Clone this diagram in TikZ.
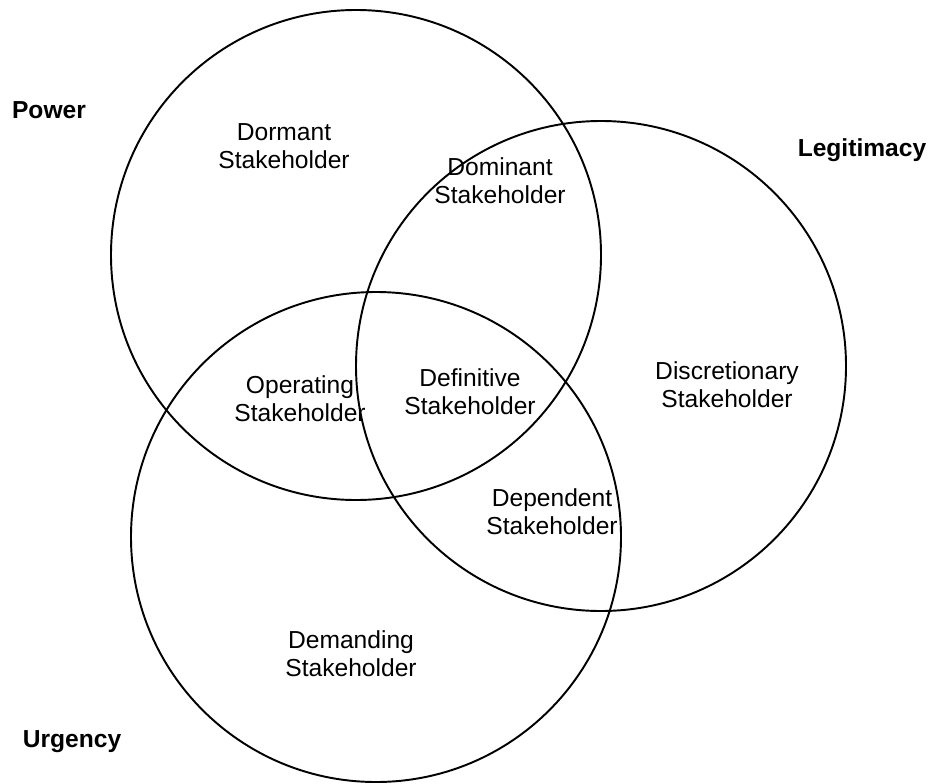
\documentclass[tikz,border=0pt]{standalone}
\usepackage{fontspec}
\setmainfont{Liberation Sans}
\usepackage{tikz}

\begin{document}
\begin{tikzpicture}[
		set/.style={line width=1.1pt, color=black},
		region/.style={align=center, font=\fontsize{14}{16}\selectfont},
		setname/.style={font=\fontsize{14}{16}\selectfont\bfseries}]
			%%%%% START %%%%%
			
			\useasboundingbox (0, 0) rectangle (18.66, 15.66);
			
			\draw[set] (7.12, 10.56) circle (4.9);
			\draw[set] (12.02, 8.34) circle (4.9);
			\draw[set] (7.52, 4.92) circle (4.9);
			
			\node[setname] (power) at (0.98, 13.46) {Power};
			\node[setname] (legitimacy) at (17.24, 12.66) {Legitimacy};
			\node[setname] (urgency) at (1.44, 0.82) {Urgency};
			
			\node[region] (dormant) at (5.68, 12.74) {Dormant\\Stakeholder};
			\node[region] (dominant) at (10.0, 12.04) {Dominant\\Stakeholder};
			\node[region] (operating) at (6.0, 7.68) {Operating\\Stakeholder};
			\node[region] (definitive) at (9.4, 7.82) {Definitive\\Stakeholder};
			\node[region] (discretionary) at (14.54, 7.96) {Discretionary\\Stakeholder};
			\node[region] (dependent) at (11.04, 5.42) {Dependent\\Stakeholder};
			\node[region] (demanding) at (7.02, 2.58) {Demanding\\Stakeholder};
			
			%%%%% END %%%%%
		\end{tikzpicture}
\end{document}
